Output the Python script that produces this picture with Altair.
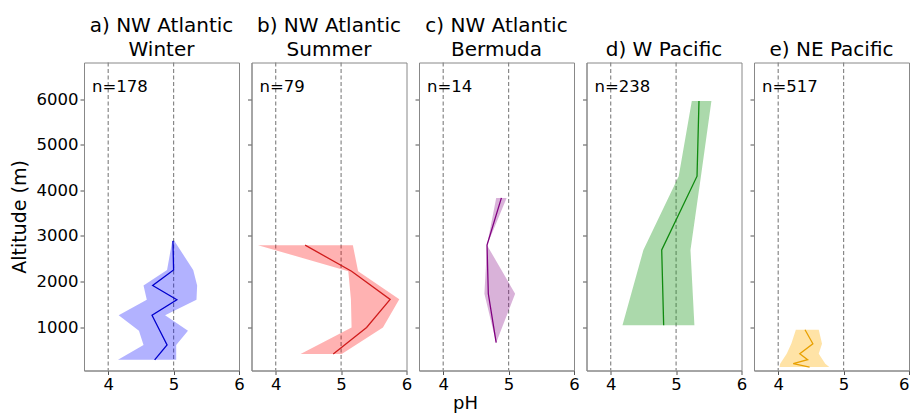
import altair as alt
import pandas as pd

# ---- data ----
title_l1 = ["a) NW Atlantic", "b) NW Atlantic", "c) NW Atlantic", "", ""]
title_l2 = ["Winter", "Summer", "Bermuda", "d) W Pacific", "e) NE Pacific"]
counts = [178, 79, 14, 238, 517]

alt_a = [283, 609, 920, 1261, 1601, 1913, 2254, 2891]
med_a = [4.71, 4.90, 4.79, 4.67, 5.05, 4.68, 5.00, 4.99]
lo_a = [4.15, 4.54, 4.47, 4.16, 4.59, 4.54, 4.90, 4.98]
hi_a = [5.04, 5.04, 5.22, 4.87, 5.35, 5.36, 5.30, 5.01]

alt_b = [413, 993, 1609, 2225, 2797]
med_b = [4.88, 5.39, 5.75, 5.16, 4.45]
lo_b = [4.38, 5.16, 5.15, 5.11, 3.73]
hi_b = [5.01, 5.64, 5.89, 5.26, 5.18]

alt_c = [659, 1732, 2797, 3833]
med_c = [4.81, 4.69, 4.67, 4.89]
lo_c = [4.81, 4.63, 4.67, 4.81]
hi_c = [4.81, 5.10, 4.67, 4.97]

alt_d = [1044, 2691, 4309, 5957]
med_d = [4.81, 4.78, 5.32, 5.35]
lo_d = [4.18, 4.50, 5.04, 5.24]
hi_d = [5.28, 5.22, 5.38, 5.54]

alt_e = [124, 199, 286, 418, 637, 943]
med_e = [4.48, 4.23, 4.45, 4.33, 4.53, 4.41]
lo_e = [4.02, 4.03, 4.07, 4.13, 4.20, 4.27]
hi_e = [4.78, 4.72, 4.68, 4.62, 4.67, 4.62]

ref_ph = [4, 5]
x_ticks = [4, 5, 6]
y_ticks = [1000, 2000, 3000, 4000, 5000, 6000]

series = [(alt_a, med_a, lo_a, hi_a), (alt_b, med_b, lo_b, hi_b),
          (alt_c, med_c, lo_c, hi_c), (alt_d, med_d, lo_d, hi_d),
          (alt_e, med_e, lo_e, hi_e)]
fills = ["#0000ff", "#ff0000", "#800080", "#2ca02c", "#ffb000"]
fill_op = [0.3, 0.3, 0.3, 0.4, 0.35]
lines = ["#0000cd", "#d01c1c", "#800080", "#108a10", "#e8a000"]

FONT = "DejaVu Sans"
W, H = 155, 308
xs = alt.Scale(domain=[3.63, 6.0], nice=False, zero=False)
ys = alt.Scale(domain=[50, 6800], nice=False, zero=False)


def make_panel(i):
    alts, meds, los, his = series[i]
    df = pd.DataFrame({"alt": alts, "med": meds, "lo": los, "hi": his})
    xaxis = alt.Axis(values=x_ticks, format="d", grid=False, tickSize=4,
                     labelPadding=2, labelFontSize=16.5, labelFont=FONT,
                     labelColor="black", tickColor="#555", domainColor="#888",
                     labelFlush=(i == 4),
                     title="pH" if i == 2 else None,
                     titleFont=FONT, titleFontSize=18, titleFontWeight="normal",
                     titleColor="black", titleX=46, titleY=38,
                     titleBaseline="alphabetic", titleAlign="center")
    yaxis = alt.Axis(values=y_ticks, format="d", grid=False, tickSize=4,
                     labelPadding=2, labels=(i == 0), labelFontSize=16.5,
                     labelFont=FONT, labelColor="black", tickColor="#555",
                     domainColor="#888",
                     title="Altitude (m)" if i == 0 else None,
                     titleFont=FONT, titleFontSize=19, titleFontWeight="normal",
                     titleColor="black", titleX=-65, titleY=H / 2,
                     titleAngle=270, titleAlign="center", titleBaseline="middle")

    rules = alt.Chart(pd.DataFrame({"v": ref_ph})).mark_rule(
        color="#888", strokeDash=[4, 2.5], strokeWidth=1.2
    ).encode(x=alt.X("v:Q", scale=xs, axis=xaxis))

    band = alt.Chart(df).mark_area(
        orient="horizontal", color=fills[i], opacity=fill_op[i], clip=True
    ).encode(
        y=alt.Y("alt:Q", scale=ys, axis=yaxis),
        x=alt.X("lo:Q", scale=xs, axis=xaxis),
        x2="hi:Q",
    )

    line = alt.Chart(df).mark_line(color=lines[i], strokeWidth=1.3, clip=True).encode(
        y=alt.Y("alt:Q", scale=ys, axis=yaxis),
        x=alt.X("med:Q", scale=xs, axis=xaxis),
        order="alt:Q",
    )

    ntext = alt.Chart(pd.DataFrame({"t": [f"n={counts[i]}"]})).mark_text(
        align="left", baseline="middle", font=FONT, fontSize=16.5, color="black"
    ).encode(x=alt.value(8), y=alt.value(24), text="t:N")

    layers = [rules, band, line, ntext]
    if title_l1[i]:
        t1 = alt.Chart(pd.DataFrame({"t": [title_l1[i]]})).mark_text(
            align="center", baseline="alphabetic", font=FONT, fontSize=20,
            color="black"
        ).encode(x=alt.value(W / 2), y=alt.value(-30.5), text="t:N")
        layers.append(t1)
    t2 = alt.Chart(pd.DataFrame({"t": [title_l2[i]]})).mark_text(
        align="center", baseline="alphabetic", font=FONT, fontSize=20,
        color="black"
    ).encode(x=alt.value(W / 2), y=alt.value(-7), text="t:N")
    layers.append(t2)

    return alt.layer(*layers).properties(width=W, height=H)


chart = alt.hconcat(*[make_panel(i) for i in range(5)], spacing=12.5,
                    bounds="flush").configure_view(
    stroke="#888", strokeWidth=1
).properties(
    padding={"left": 9, "top": 15.5, "right": 2, "bottom": 0},
    background="white",
)

chart.save("out.html", embed_options={"renderer": "svg", "actions": False})
